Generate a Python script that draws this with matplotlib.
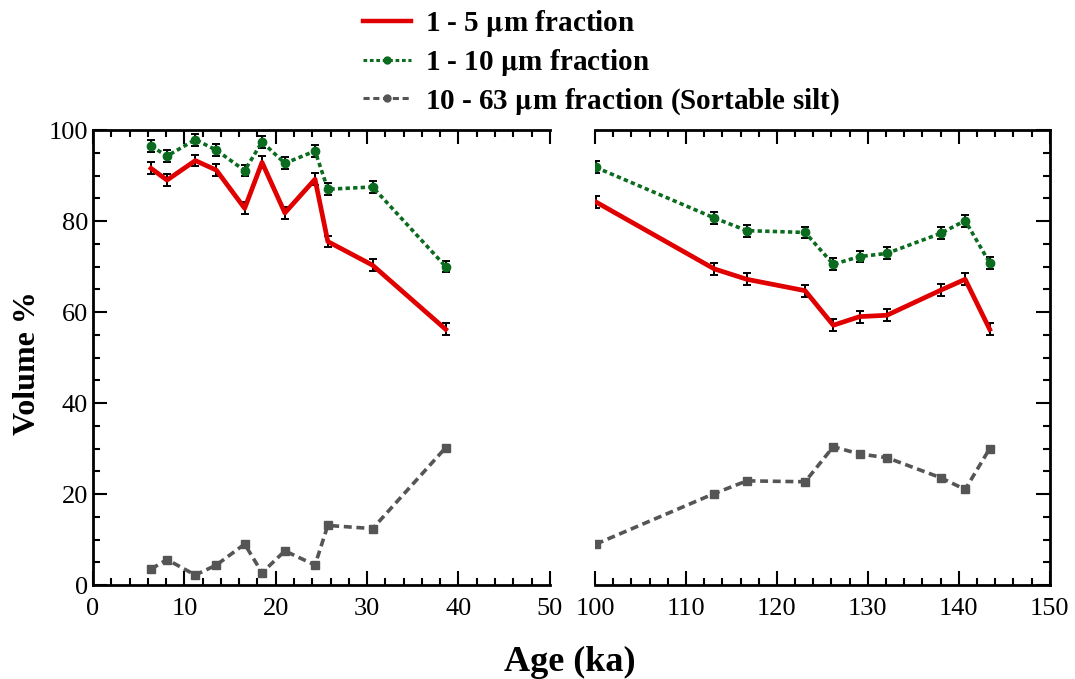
import matplotlib
matplotlib.use('Agg')
import matplotlib.pyplot as plt
from matplotlib.ticker import MultipleLocator
from matplotlib.lines import Line2D

plt.rcParams['font.family'] = ['Liberation Serif', 'DejaVu Serif']
plt.rcParams['mathtext.fontset'] = 'stix'

# Left segment (0 - 50 ka)
age_a = [6.35, 8.1, 11.2, 13.5, 16.6, 18.5, 21.0, 24.3, 25.7, 30.6, 38.6]
f5_a = [91.6, 89.0, 93.3, 91.2, 82.8, 92.9, 81.8, 89.2, 75.5, 70.3, 56.2]
f10_a = [96.5, 94.3, 97.9, 95.6, 91.1, 97.4, 92.7, 95.4, 87.0, 87.5, 70.0]
f63_a = [3.5, 5.6, 2.2, 4.4, 9.0, 2.7, 7.5, 4.4, 13.1, 12.4, 30.2]

# Right segment (100 - 150 ka)
age_b = [100.1, 113.1, 116.7, 123.1, 126.2, 129.1, 132.1, 138.0, 140.7, 143.4]
f5_b = [84.2, 69.5, 67.2, 64.7, 57.1, 59.0, 59.3, 64.8, 67.2, 56.2]
f10_b = [91.8, 80.7, 77.9, 77.5, 70.5, 72.2, 72.9, 77.3, 80.1, 70.8]
f63_b = [9.0, 20.1, 22.9, 22.7, 30.4, 28.8, 28.0, 23.6, 21.0, 30.0]

err_fine = 1.3     # error on 1-5 and 1-10 fractions
err_silt = 0.6     # error on sortable silt

labels = [r'1 - 5 $\mathbf{\mu}$m fraction',
          r'1 - 10 $\mathbf{\mu}$m fraction',
          r'10 - 63 $\mathbf{\mu}$m fraction (Sortable silt)']

red = '#e00000'
green = '#0b6b1f'
grey = '#555555'

fig = plt.figure(figsize=(10.75, 6.79), dpi=100)
ax1 = fig.add_axes([0.0865, 0.1384, 0.425, 0.670])
ax2 = fig.add_axes([0.5535, 0.1384, 0.423, 0.670])

ebkw = dict(ecolor='black', elinewidth=1.4, capsize=3, capthick=1.4)

for ax, age, f5, f10, f63 in [(ax1, age_a, f5_a, f10_a, f63_a),
                              (ax2, age_b, f5_b, f10_b, f63_b)]:
    ax.errorbar(age, f63, yerr=err_silt, color=grey, lw=2.6, ls=(0, (2.2, 1.3)),
                marker='s', ms=6, **ebkw, zorder=2)
    ax.errorbar(age, f10, yerr=err_fine, color=green, lw=2.6, ls=(0, (1.2, 0.9)),
                marker='o', ms=6, **ebkw, zorder=3)
    ax.errorbar(age, f5, yerr=err_fine, color=red, lw=3.4, ls='-',
                **ebkw, zorder=4)
    ax.set_ylim(0, 100)
    ax.yaxis.set_major_locator(MultipleLocator(20))
    ax.yaxis.set_minor_locator(MultipleLocator(5))
    ax.xaxis.set_major_locator(MultipleLocator(10))
    ax.xaxis.set_minor_locator(MultipleLocator(2))
    ax.tick_params(which='both', direction='in', top=True, width=1.5, labelsize=19)
    ax.tick_params(which='major', length=10)
    ax.tick_params(which='minor', length=5)
    ax.tick_params(axis='x', pad=9)
    for sp in ax.spines.values():
        sp.set_linewidth(2)

ax1.set_xlim(0, 50)
ax1.spines['right'].set_visible(False)
ax1.tick_params(which='both', right=False)
ax1.set_ylabel('Volume %', fontsize=23, fontweight='bold')
ax1.yaxis.set_label_coords(-0.112, 0.488)

ax2.set_xlim(100, 150)
ax2.spines['left'].set_visible(False)
ax2.tick_params(which='both', left=False, labelleft=False, right=True)

fig.text(0.53, 0.0, 'Age (ka)', ha='center', va='bottom', fontsize=26, fontweight='bold')

handles = [Line2D([], [], color=red, lw=3.2),
           Line2D([], [], color=green, lw=2.2, ls=(0, (1.2, 0.9)), marker='o', ms=5),
           Line2D([], [], color=grey, lw=2.2, ls=(0, (2.0, 1.2)), marker='o', ms=5)]
fig.legend(handles, labels, loc='upper left', bbox_to_anchor=(0.313, 1.027),
           frameon=False, prop={'size': 21, 'weight': 'bold'}, numpoints=1,
           handlelength=1.64, labelspacing=0.28, handletextpad=0.5)

fig.savefig('out.png', dpi=100)
